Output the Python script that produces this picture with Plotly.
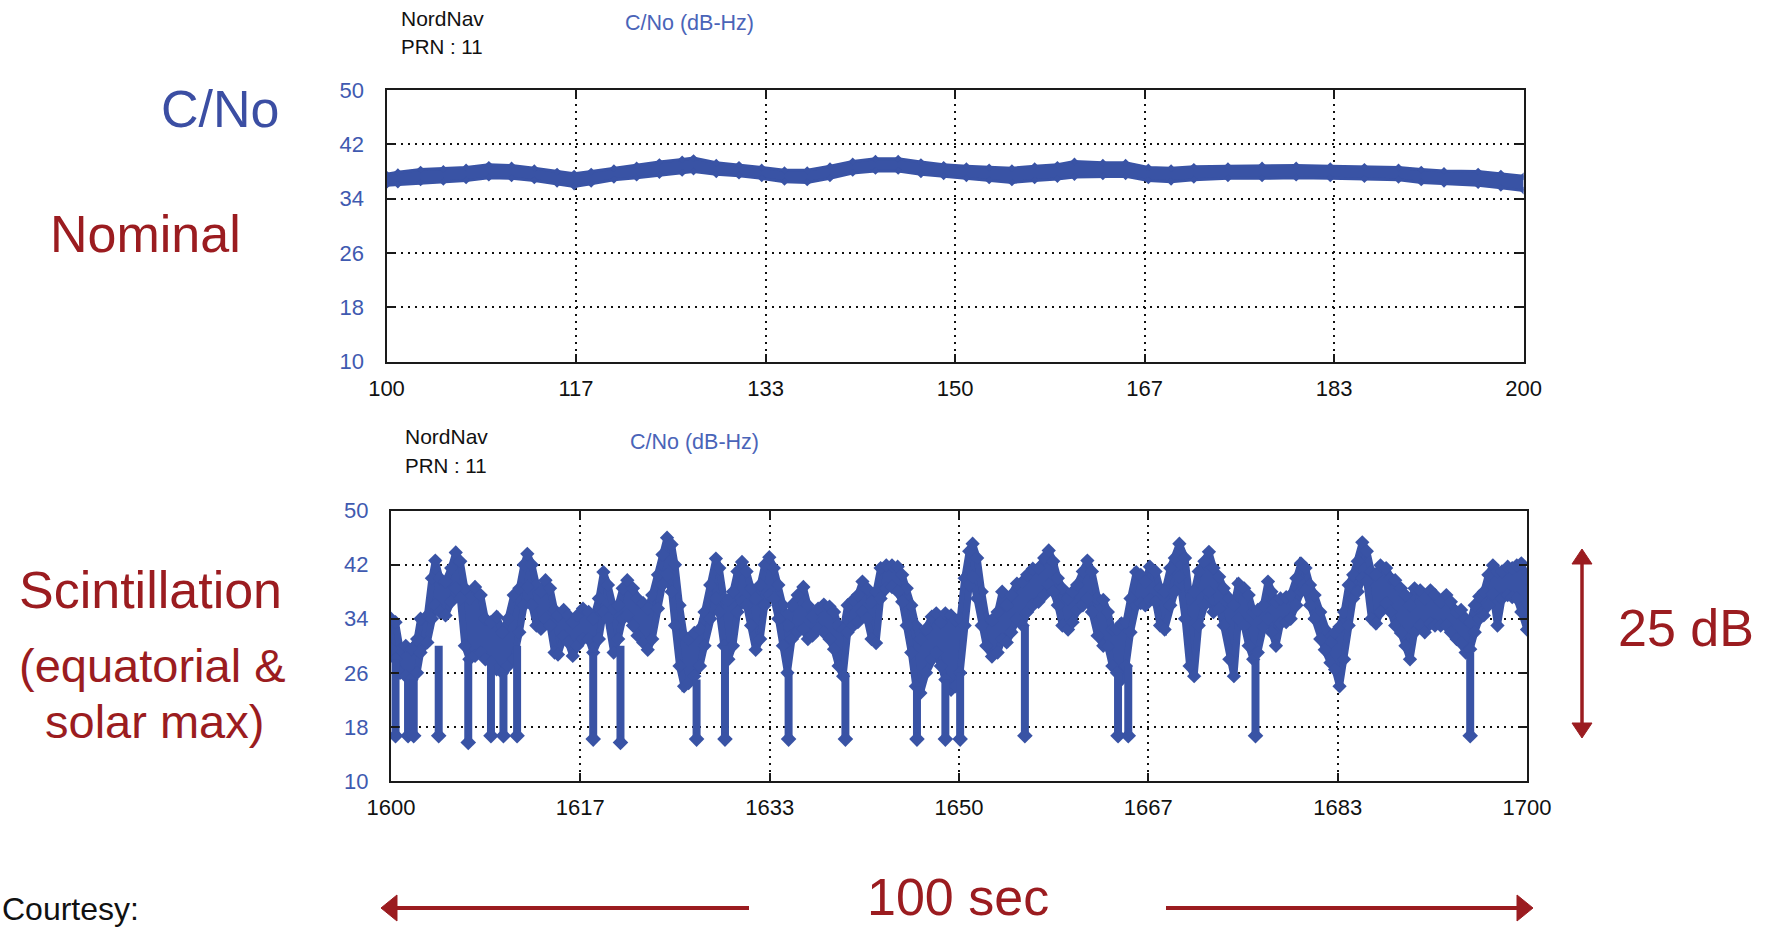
import plotly.graph_objects as go

# ---------------- data ----------------
# Nominal C/No (PRN 11), time 100..200 s: upper / lower edge of the dense point band
top_t = [100, 101, 103, 105, 107, 109, 111, 113, 115, 116.5,
         118, 120, 122, 124, 126, 127, 129, 131, 133, 135,
         137, 139, 141, 143, 145, 147, 149, 151, 153, 155,
         157, 159, 160.5, 163, 165, 167, 169, 171, 174, 177,
         180, 183, 186, 189, 191, 193, 196, 198, 200]
top_hi = [37.6, 37.9, 38.3, 38.4, 38.6, 39.0, 38.9, 38.5, 38.0, 37.7,
          38.0, 38.5, 38.9, 39.4, 39.8, 40.0, 39.3, 39.0, 38.6, 38.2,
          38.2, 38.8, 39.5, 39.9, 39.9, 39.4, 39.0, 38.8, 38.6, 38.5,
          38.8, 39.0, 39.5, 39.3, 39.3, 38.6, 38.5, 38.7, 38.8, 38.9,
          38.9, 38.8, 38.7, 38.6, 38.3, 38.1, 38.0, 37.7, 37.3]
top_lo = [36.0, 36.1, 36.4, 36.5, 36.7, 37.1, 37.0, 36.7, 36.2, 35.8,
          36.2, 36.8, 37.1, 37.5, 37.8, 38.0, 37.6, 37.4, 37.0, 36.5,
          36.4, 37.0, 37.8, 38.1, 38.1, 37.6, 37.3, 37.0, 36.7, 36.4,
          36.7, 36.9, 37.2, 37.3, 37.3, 36.7, 36.5, 36.8, 37.0, 37.0,
          37.1, 37.0, 36.9, 36.8, 36.4, 36.2, 36.0, 35.6, 35.2]

# Scintillation C/No, time 1600..1700 s: upper / lower edge of the point band
bot_t = [1600.0, 1600.4, 1600.8, 1601.3, 1601.8, 1602.3, 1602.6, 1603.2, 1603.6, 1603.9,
         1604.3, 1604.8, 1605.3, 1605.7, 1606.1, 1606.5, 1606.9, 1607.4, 1607.9, 1608.3,
         1608.8, 1609.3, 1609.8, 1610.3, 1610.8, 1611.3, 1611.7, 1612.0, 1612.4, 1612.8,
         1613.2, 1613.6, 1614.0, 1614.4, 1614.7, 1615.2, 1615.6, 1616.0, 1616.4, 1616.9,
         1617.4, 1617.8, 1618.3, 1618.7, 1619.1, 1619.6, 1620.0, 1620.4, 1620.8, 1621.3,
         1621.7, 1622.2, 1622.6, 1623.0, 1623.5, 1623.9, 1624.3, 1624.7, 1625.0, 1625.4,
         1625.8, 1626.2, 1626.7, 1627.2, 1627.6, 1628.1, 1628.6, 1628.9, 1629.3, 1629.7,
         1630.1, 1630.5, 1630.9, 1631.3, 1631.7, 1632.1, 1632.5, 1632.9, 1633.3, 1633.7,
         1634.1, 1634.5, 1634.9, 1635.3, 1635.8, 1636.3, 1636.7, 1637.1, 1637.6, 1638.1,
         1638.6, 1639.0, 1639.4, 1639.8, 1640.2, 1640.7, 1641.1, 1641.5, 1641.9, 1642.3,
         1642.7, 1643.1, 1643.6, 1644.1, 1644.6, 1645.0, 1645.4, 1645.8, 1646.2, 1646.6,
         1647.1, 1647.6, 1648.0, 1648.4, 1648.8, 1649.3, 1649.7, 1650.1, 1650.5, 1650.9,
         1651.2, 1651.6, 1652.0, 1652.4, 1652.9, 1653.4, 1653.8, 1654.2, 1654.6, 1655.1,
         1655.6, 1656.0, 1656.5, 1657.0, 1657.5, 1657.9, 1658.3, 1658.7, 1659.1, 1659.6,
         1660.0, 1660.4, 1660.9, 1661.3, 1661.7, 1662.2, 1662.7, 1663.1, 1663.5, 1663.9,
         1664.3, 1664.7, 1665.1, 1665.6, 1666.0, 1666.4, 1666.8, 1667.3, 1667.7, 1668.1,
         1668.6, 1669.0, 1669.4, 1669.9, 1670.3, 1670.7, 1671.1, 1671.6, 1672.0, 1672.4,
         1672.9, 1673.3, 1673.8, 1674.2, 1674.6, 1675.1, 1675.5, 1675.9, 1676.3, 1676.8,
         1677.2, 1677.5, 1677.9, 1678.3, 1678.8, 1679.2, 1679.7, 1680.1, 1680.5, 1680.9,
         1681.3, 1681.8, 1682.2, 1682.7, 1683.1, 1683.5, 1683.9, 1684.3, 1684.7, 1685.1,
         1685.5, 1685.9, 1686.3, 1686.7, 1687.1, 1687.6, 1688.0, 1688.4, 1688.9, 1689.3,
         1689.7, 1690.1, 1690.6, 1691.0, 1691.5, 1691.9, 1692.4, 1692.9, 1693.3, 1693.8,
         1694.2, 1694.6, 1695.0, 1695.4, 1695.8, 1696.2, 1696.6, 1697.0, 1697.4, 1697.8,
         1698.3, 1698.7, 1699.1, 1699.5, 1700.0]
bot_hi = [34, 33.5, 29.5, 30, 29.5, 31, 34, 34.5, 40, 42.6,
          40, 39.5, 41.5, 43.8, 42.5, 38.5, 37, 38.7, 37.5, 34,
          33.5, 34.3, 32, 34, 37.5, 38.5, 42, 43.6, 42, 39,
          38, 39.7, 38.5, 35.3, 34.5, 35.3, 34.5, 33.5, 34.5, 35.5,
          35, 34, 37, 40.9, 39, 35.5, 36, 38.5, 39.7, 38.5,
          37, 36.3, 35.5, 37.5, 40.5, 43.5, 46, 45, 42, 36,
          31.5, 31, 31.9, 32.5, 35, 39, 42.9, 41.5, 37, 36.8,
          38, 41, 42.4, 41, 38.5, 37, 39, 42, 43.1, 41.5,
          39, 36, 33, 36, 37.5, 38.7, 36, 34.3, 35.5, 36.1,
          35.8, 35, 33, 32.4, 36, 36.8, 37.5, 39.5, 38.5, 36.5,
          38, 41.5, 41.9, 41.9, 41.7, 40.5, 38.5, 36, 33, 31,
          32.5, 34.3, 34.8, 33.5, 34.8, 34.5, 33.8, 34, 40, 44,
          45.1, 43, 38, 34, 33.8, 35, 38, 36, 37.5, 39.2,
          39.5, 40.5, 41.4, 41.5, 43, 44.1, 42.5, 40, 38.5, 37,
          38, 39, 41, 42.6, 41, 37, 36.8, 35, 32.4, 32.5,
          33.3, 33.5, 37, 40.9, 40.5, 39.5, 41.7, 41, 38.5, 38,
          41.5, 43, 45.1, 43, 37, 38, 41, 42.5, 43.9, 41.5,
          40.2, 38.5, 37, 36, 39.2, 38.5, 37.5, 35, 35.3, 36,
          39.5, 38, 36.5, 37, 37.2, 37.5, 40, 42.2, 41.5, 39,
          37.5, 35, 32.5, 30.5, 32, 32.8, 35, 39, 40.5, 42.5,
          45.3, 44, 41, 40.5, 41.9, 41.5, 40, 39.7, 38.5, 37.5,
          36, 38.5, 38.2, 37, 38.2, 37.5, 36.5, 37.5, 36.5, 35,
          35.3, 34, 33.5, 36, 37.3, 38, 40.5, 41.9, 41, 41,
          41.7, 41.5, 41.9, 42.2, 40]
bot_lo = [29.5, 28, 26, 25.5, 25, 26, 29, 30.5, 34, 36,
          35, 34.5, 36.5, 38.5, 37, 30, 28, 28.5, 29, 28,
          27.5, 26.5, 26, 27, 28, 32, 36, 38.7, 36, 33,
          32.5, 34, 33, 29, 28.7, 31.4, 30.5, 28.5, 30, 31,
          31, 29, 31, 35, 34, 29, 31, 34, 34.5, 33,
          31.5, 30.5, 29.4, 31, 35.5, 39, 40.5, 38, 33, 27,
          24, 24.5, 25.5, 27, 30, 34, 37, 35, 30, 28,
          30, 35, 36.5, 36, 33, 29.4, 31, 36, 37.5, 37,
          34, 30, 26, 31, 32, 32.5, 31, 31.5, 32.5, 32,
          31, 29.5, 27, 25.5, 32, 33, 33.5, 35, 34, 31,
          30.4, 37, 38.5, 38.7, 38, 36.5, 33, 29, 24, 23,
          26, 28, 29, 27, 25, 23.5, 24, 26, 33, 39,
          40.2, 37, 33, 30, 28.4, 29, 31, 30.5, 32, 34,
          33, 35, 36, 36.5, 37.5, 39, 38, 36, 33, 32.4,
          33.5, 35.3, 36, 37, 35, 31.5, 30, 29.9, 27, 26,
          25, 27, 32, 36, 36.3, 36, 36.8, 36.5, 33, 32.4,
          36, 38, 40.2, 34, 27, 25.5, 33, 36, 38, 35,
          35.5, 33, 28, 25.5, 34, 33, 30, 28, 29, 32.8,
          34, 32, 30, 33.3, 33.5, 34, 36, 38, 38.2, 36,
          34, 31, 29.4, 27.5, 26.5, 24, 28, 33, 37, 38,
          40, 39.5, 34, 33.3, 35, 36.3, 35, 33, 31.9, 30,
          28, 32, 33, 32, 33.3, 33, 33, 33, 32, 31,
          30.4, 29, 29.5, 32, 34, 34.5, 36, 37.7, 33, 37,
          37.5, 37.2, 37, 35, 32.4]

# deep fades (columns of isolated samples below the band)
drop_t = [1600.4, 1601.5, 1602.0, 1604.2, 1606.8, 1608.8, 1609.9, 1611.1, 1617.8, 1620.2, 1626.9,
          1629.4, 1635.0, 1640.0, 1646.3, 1648.8, 1650.1, 1655.8, 1664.0, 1664.9, 1676.1, 1695.0]
drop_top = [28, 25, 25, 30, 28, 27, 26, 30, 29, 30, 25,
            30, 26, 26, 24, 25, 26, 33, 26, 27, 28, 29]
drop_min = [16.7, 16.7, 16.7, 16.7, 15.7, 16.7, 16.7, 16.7, 16.2, 15.7, 16.2,
            16.2, 16.2, 16.2, 16.2, 16.2, 16.2, 16.7, 16.7, 16.7, 16.7, 16.7]

y_ticks = [10, 18, 26, 34, 42, 50]
top_xtick_vals = [100, 116.667, 133.333, 150, 166.667, 183.333, 200]
top_xtick_text = ['100', '117', '133', '150', '167', '183', '200']
bot_xtick_vals = [1600, 1616.667, 1633.333, 1650, 1666.667, 1683.333, 1700]
bot_xtick_text = ['1600', '1617', '1633', '1650', '1667', '1683', '1700']

assert len(top_t) == len(top_hi) == len(top_lo)
assert len(bot_t) == len(bot_hi) == len(bot_lo)
assert len(drop_t) == len(drop_top) == len(drop_min)

# ---------------- style ----------------
W, H = 1767, 929
BLUE = '#3953a5'
RED = '#9b1c20'
FONT = 'Liberation Sans, Arial, sans-serif'


def px(x):
    return x / W


def py(y):
    return 1 - y / H


fig = go.Figure()

# top band
fig.add_trace(go.Scatter(x=top_t, y=top_hi, mode='lines+markers', line=dict(color=BLUE, width=3),
                         marker=dict(symbol='diamond', size=6, color=BLUE),
                         xaxis='x', yaxis='y', hoverinfo='skip'))
fig.add_trace(go.Scatter(x=top_t, y=top_lo, mode='lines+markers', line=dict(color=BLUE, width=3),
                         marker=dict(symbol='diamond', size=6, color=BLUE),
                         fill='tonexty', fillcolor=BLUE, xaxis='x', yaxis='y', hoverinfo='skip'))

# bottom band
fig.add_trace(go.Scatter(x=bot_t, y=bot_hi, mode='lines+markers', line=dict(color=BLUE, width=7),
                         marker=dict(symbol='diamond', size=11, color=BLUE),
                         xaxis='x2', yaxis='y2', hoverinfo='skip'))
fig.add_trace(go.Scatter(x=bot_t, y=bot_lo, mode='lines+markers', line=dict(color=BLUE, width=7),
                         marker=dict(symbol='diamond', size=11, color=BLUE),
                         fill='tonexty', fillcolor=BLUE, xaxis='x2', yaxis='y2', hoverinfo='skip'))

# fade columns
col_x, col_y = [], []
for t, a, b in zip(drop_t, drop_top, drop_min):
    col_x += [t, t, None]
    col_y += [a, b, None]
fig.add_trace(go.Scatter(x=col_x, y=col_y, mode='lines', line=dict(color=BLUE, width=8),
                         xaxis='x2', yaxis='y2', hoverinfo='skip'))
fig.add_trace(go.Scatter(x=drop_t, y=drop_min, mode='markers',
                         marker=dict(symbol='diamond', size=12, color=BLUE),
                         xaxis='x2', yaxis='y2', hoverinfo='skip'))

axis_common = dict(showline=True, linecolor='#1a1a1a', linewidth=2, mirror='ticks',
                   ticks='inside', ticklen=8, tickwidth=2, tickcolor='#1a1a1a',
                   showgrid=True, gridcolor='#111111', gridwidth=1.6, griddash='2px,5px',
                   zeroline=False, fixedrange=True, automargin=False)
xfont = dict(family=FONT, size=22, color='#111111')
yfont = dict(family=FONT, size=22, color='#3f5ab0')

fig.update_layout(
    width=W, height=H, margin=dict(l=0, r=0, t=0, b=0, autoexpand=False),
    paper_bgcolor='white', plot_bgcolor='white', showlegend=False,
    xaxis=dict(domain=[px(386.5), px(1523.6)], range=[100, 200], anchor='y',
               tickvals=top_xtick_vals, ticktext=top_xtick_text, tickfont=xfont,
               ticklabelstandoff=6, **axis_common),
    yaxis=dict(domain=[py(361.5), py(90.2)], range=[10, 50], anchor='x',
               tickvals=y_ticks, tickfont=yfont, ticklabelstandoff=16, **axis_common),
    xaxis2=dict(domain=[px(391), px(1527)], range=[1600, 1700], anchor='y2',
                tickvals=bot_xtick_vals, ticktext=bot_xtick_text, tickfont=xfont,
                ticklabelstandoff=6, **axis_common),
    yaxis2=dict(domain=[py(781), py(510.6)], range=[10, 50], anchor='x2',
                tickvals=y_ticks, tickfont=yfont, ticklabelstandoff=16, **axis_common),
)


def text(s, x, y, size, color, xanchor='center', yanchor='middle'):
    fig.add_annotation(text=s, x=px(x), y=py(y), xref='paper', yref='paper',
                       xanchor=xanchor, yanchor=yanchor, showarrow=False,
                       font=dict(family=FONT, size=size, color=color))


text('C/No', 220, 109, 52, '#3b4ea3')
text('Nominal', 145, 234, 52, RED)
text('Scintillation', 150, 590, 52, RED)
text('(equatorial &amp;', 152, 665, 47, RED)
text('solar max)', 154, 721, 47, RED)
text('25 dB', 1686, 628, 52, RED)
text('100 sec', 958, 928, 52, RED, yanchor='bottom')
text('Courtesy:', 0, 929, 32, '#111111', xanchor='left', yanchor='bottom')

text('NordNav', 399, 18.5, 21, '#111111', xanchor='left')
text('PRN : 11', 399, 46, 20.5, '#111111', xanchor='left')
text('C/No (dB-Hz)', 623, 22.5, 21.5, '#4a64b8', xanchor='left')
text('NordNav', 403, 437, 21, '#111111', xanchor='left')
text('PRN : 11', 403, 465, 20.5, '#111111', xanchor='left')
text('C/No (dB-Hz)', 628, 442, 21.5, '#4a64b8', xanchor='left')

# arrows (decorations)
def line_px(x0, y0, x1, y1, w):
    fig.add_shape(type='line', xref='paper', yref='paper', x0=px(x0), y0=py(y0),
                  x1=px(x1), y1=py(y1), line=dict(color=RED, width=w))


def tri_px(pts):
    path = 'M ' + ' L '.join(f'{px(a):.5f},{py(b):.5f}' for a, b in pts) + ' Z'
    fig.add_shape(type='path', xref='paper', yref='paper', path=path,
                  fillcolor=RED, line=dict(color=RED, width=1))


# vertical 25 dB arrow
line_px(1582, 560, 1582, 726, 3.5)
tri_px([(1582, 549), (1572, 564), (1592, 564)])
tri_px([(1582, 738), (1572, 723), (1592, 723)])
# horizontal 100 sec arrows
line_px(394, 908, 749, 908, 4)
tri_px([(381, 908), (397, 895), (397, 921)])
line_px(1166, 908, 1520, 908, 4)
tri_px([(1533, 908), (1517, 895), (1517, 921)])

fig.write_html('out.html')
